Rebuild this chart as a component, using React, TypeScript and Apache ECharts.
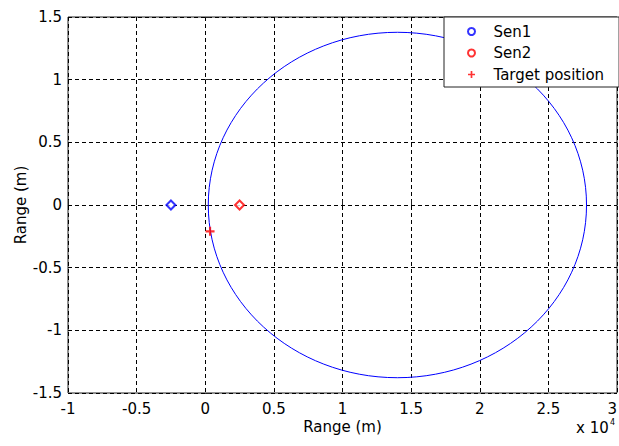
import React, { useEffect, useRef } from "react";
import * as echarts from "echarts";

// Sensor and target locations (units of 10^4 m)
const sen1: number[][] = [[-0.25, 0]];
const sen2: number[][] = [[0.25, 0]];
const targetPos: number[][] = [[0.035, -0.21]];
// Locus circle: centre x, centre y, radius
const locus: number[][] = [[1.4, 0, 1.378]];

const xLimits = [-1, 3];
const yLimits = [-1.5, 1.5];
const tickStep = 0.5;
const exponentText = "x 10";
const exponentPower = "4";

const FONT = "DejaVu Sans";
const PLUS_PATH =
  "path://M-1.2,-5 h2.4 v3.8 h3.8 v2.4 h-3.8 v3.8 h-2.4 v-3.8 h-3.8 v-2.4 h3.8 z";

export default function App() {
  const ref = useRef<HTMLDivElement>(null);

  useEffect(() => {
    if (!ref.current) return;
    const chart = echarts.init(ref.current, null, { renderer: "svg" });

    const axisCommon = {
      type: "value" as const,
      interval: tickStep,
      axisLine: { show: false },
      axisTick: { show: true, inside: true, length: 5, lineStyle: { color: "#222" } },
      splitLine: { show: true, lineStyle: { color: "#000", type: [4, 3], width: 1 } },
      axisLabel: { color: "#000", fontFamily: FONT, fontSize: 15 },
      nameTextStyle: { color: "#000", fontFamily: FONT, fontSize: 15 },
      nameMoveOverlap: false,
    };

    chart.setOption({
      animation: false,
      backgroundColor: "#fff",
      grid: {
        left: 68,
        right: 2,
        top: 17,
        bottom: 53,
        outerBoundsMode: "none",
        containLabel: false,
        show: true,
        borderColor: "#222",
        borderWidth: 1,
        backgroundColor: "#fff",
      },
      xAxis: {
        ...axisCommon,
        min: xLimits[0],
        max: xLimits[1],
        name: "Range (m)",
        nameLocation: "middle",
        nameGap: 26,
        axisLabel: { ...axisCommon.axisLabel, margin: 8, alignMaxLabel: "right" },
      },
      yAxis: {
        ...axisCommon,
        min: yLimits[0],
        max: yLimits[1],
        name: "Range (m)",
        nameLocation: "middle",
        nameGap: 40,
        axisLabel: { ...axisCommon.axisLabel, margin: 6 },
      },
      legend: {
        orient: "vertical",
        left: 444,
        top: 17,
        padding: [7, 15, 5, 23],
        itemWidth: 34,
        itemHeight: 7,
        itemGap: 6.5,
        backgroundColor: "#fff",
        borderColor: "#222",
        borderWidth: 1,
        borderRadius: 0,
        textStyle: { color: "#000", fontFamily: FONT, fontSize: 15 },
        data: [
          { name: "Sen1", icon: "emptyCircle" },
          { name: "Sen2", icon: "emptyCircle" },
          { name: "Target position", icon: PLUS_PATH },
        ],
      },
      graphic: [
        {
          type: "text",
          left: 576,
          top: 420,
          style: { text: exponentText, fill: "#000", font: `15px "${FONT}"` },
        },
        {
          type: "text",
          left: 610,
          top: 418,
          style: { text: exponentPower, fill: "#000", font: `8px "${FONT}"` },
        },
      ],
      series: [
        {
          type: "custom",
          name: "locus",
          data: locus,
          encode: { x: 0, y: 1 },
          silent: true,
          z: 2,
          renderItem: (_params: any, api: any) => {
            const c = api.coord([api.value(0), api.value(1)]);
            const s = api.size([api.value(2), api.value(2)]);
            return {
              type: "ellipse",
              shape: { cx: c[0], cy: c[1], rx: s[0], ry: s[1] },
              style: { fill: "none", stroke: "#0000ff", lineWidth: 1 },
            };
          },
        },
        {
          type: "scatter",
          name: "Sen1",
          data: sen1,
          symbol: "emptyDiamond",
          symbolSize: [9, 9],
          itemStyle: { color: "#0000ff", borderWidth: 1 },
          z: 3,
        },
        {
          type: "scatter",
          name: "Sen2",
          data: sen2,
          symbol: "emptyDiamond",
          symbolSize: [9, 9],
          itemStyle: { color: "#ff0000", borderWidth: 1 },
          z: 3,
        },
        {
          type: "scatter",
          name: "Target position",
          data: targetPos,
          symbol: PLUS_PATH,
          symbolSize: 9,
          itemStyle: { color: "#ff0000" },
          z: 4,
        },
      ],
    });

    return () => chart.dispose();
  }, []);

  return (
    <div
      ref={ref}
      style={{ position: "absolute", left: 0, top: 0, width: 619, height: 446, background: "#fff" }}
    />
  );
}
